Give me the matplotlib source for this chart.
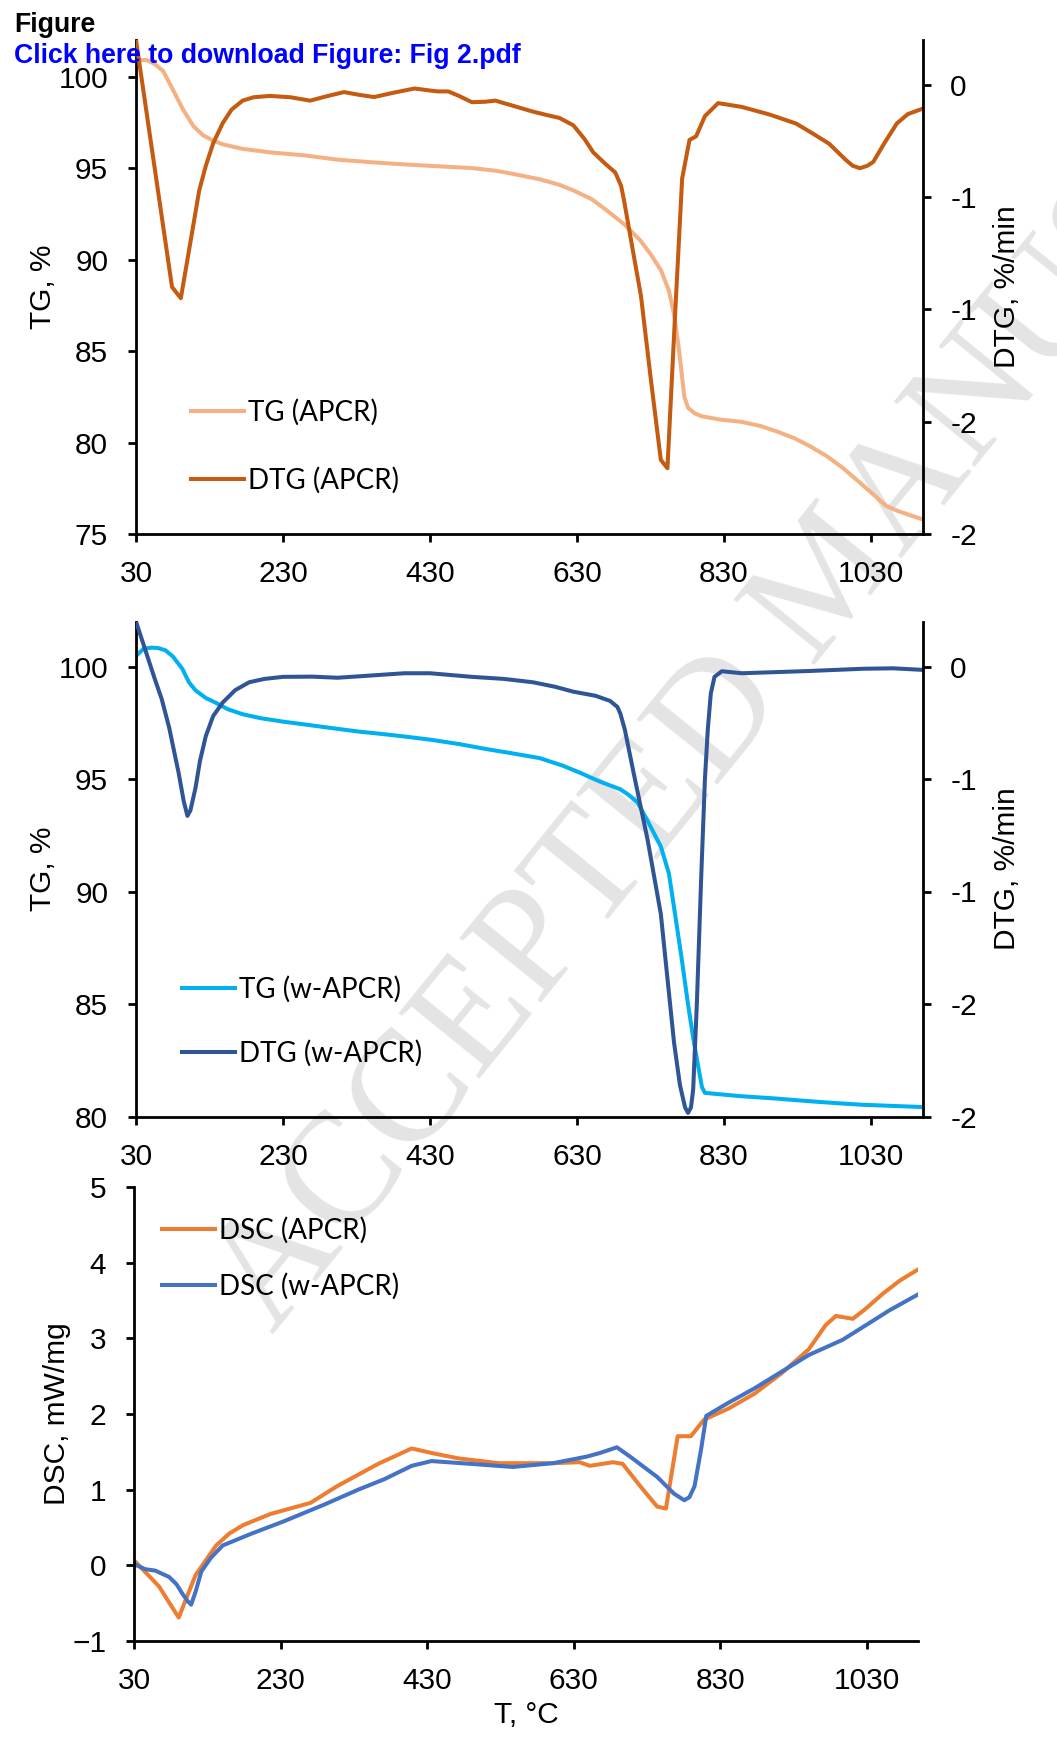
import numpy as np
import matplotlib
matplotlib.use("Agg")
from matplotlib import pyplot as plt

# ---- data ----
# top panel, APCR
t_tg1 = [31, 45, 55, 67, 80, 94, 108, 121, 135, 148, 175, 212, 258, 304, 350, 395, 440,
         487, 520, 542, 579, 605, 625, 650, 671, 695, 716, 730, 744, 755, 762, 768, 772,
         776, 781, 790, 799, 825, 854, 880, 900, 925, 946, 970, 992, 1015, 1038, 1050,
         1065, 1085, 1100]
tg1 = [100.9, 100.9, 100.7, 100.3, 99.3, 98.2, 97.3, 96.8, 96.5, 96.3, 96.05, 95.86, 95.7,
       95.46, 95.32, 95.2, 95.1, 95.0, 94.85, 94.69, 94.39, 94.1, 93.78, 93.3, 92.67, 91.9,
       91.05, 90.3, 89.43, 88.3, 87.0, 85.3, 83.9, 82.5, 81.9, 81.6, 81.44, 81.25, 81.13,
       80.9, 80.63, 80.25, 79.82, 79.25, 78.6, 77.8, 76.99, 76.55, 76.28, 76.0, 75.8]
t_dtg1 = [30, 79, 91, 103, 116, 125, 135, 148, 160, 175, 190, 212, 240, 267, 290, 313,
          335, 354, 380, 409, 430, 441, 455, 470, 487, 505, 519, 545, 570, 590, 606, 625,
          640, 652, 668, 682, 690, 694, 705, 717, 730, 744, 753, 763, 773, 783, 792, 804,
          822, 854, 891, 928, 950, 973, 996, 1005, 1015, 1025, 1033, 1048, 1065, 1080,
          1100]
dtg1 = [0.2, -0.90, -0.95, -0.72, -0.47, -0.36, -0.26, -0.17, -0.11, -0.07, -0.055,
        -0.049, -0.055, -0.07, -0.05, -0.032, -0.045, -0.054, -0.035, -0.016, -0.025,
        -0.029, -0.029, -0.05, -0.077, -0.075, -0.07, -0.095, -0.119, -0.135, -0.147,
        -0.18, -0.24, -0.30, -0.35, -0.39, -0.45, -0.515, -0.72, -0.94, -1.3, -1.67,
        -1.707, -1.05, -0.417, -0.245, -0.229, -0.139, -0.081, -0.098, -0.131, -0.172,
        -0.215, -0.262, -0.335, -0.36, -0.371, -0.36, -0.343, -0.26, -0.172, -0.13,
        -0.106]

# middle panel, w-APCR
t_tg2 = [31, 40, 51, 60, 70, 80, 93, 102, 111, 125, 139, 155, 175, 200, 230, 265, 304,
         335, 368, 400, 432, 470, 505, 540, 579, 610, 634, 660, 689, 700, 712, 725, 744,
         755, 763, 772, 781, 788, 795, 800, 804, 830, 854, 900, 946, 980, 1019, 1060, 1100]
tg2 = [100.5, 100.78, 100.84, 100.82, 100.72, 100.45, 99.9, 99.3, 98.94, 98.6, 98.38,
       98.1, 97.88, 97.7, 97.55, 97.4, 97.23, 97.1, 96.99, 96.87, 96.74, 96.55, 96.34,
       96.15, 95.93, 95.6, 95.28, 94.9, 94.54, 94.3, 93.97, 93.2, 92.0, 90.8, 89.07, 87.1,
       84.99, 83.5, 82.2, 81.3, 81.05, 80.97, 80.9, 80.8, 80.68, 80.6, 80.52, 80.47, 80.42]
t_dtg2 = [30, 45, 55, 65, 75, 88, 95, 100, 104, 111, 117, 125, 135, 148, 165, 184, 205,
          230, 270, 304, 350, 395, 430, 487, 530, 570, 600, 625, 655, 675, 685, 689, 695,
          707, 726, 744, 762, 770, 777, 781, 785, 788, 793, 799, 804, 808, 812, 817, 827,
          854, 900, 946, 1019, 1060, 1100]
dtg2 = [0.2, 0.05, -0.05, -0.145, -0.27, -0.473, -0.6, -0.664, -0.64, -0.539, -0.42,
        -0.309, -0.22, -0.16, -0.105, -0.07, -0.055, -0.046, -0.045, -0.05, -0.04, -0.03,
        -0.03, -0.046, -0.055, -0.07, -0.09, -0.112, -0.13, -0.153, -0.18, -0.21, -0.28,
        -0.473, -0.77, -1.1, -1.672, -1.86, -1.96, -1.984, -1.96, -1.88, -1.5, -0.93,
        -0.5, -0.276, -0.12, -0.046, -0.021, -0.03, -0.025, -0.02, -0.01, -0.008, -0.015]

# bottom panel, DSC
t_dsc1 = [30, 64, 91, 114, 142, 160, 179, 216, 271, 307, 363, 409, 436, 473, 528, 602,
          638, 652, 684, 697, 721, 744, 756, 772, 790, 808, 841, 877, 914, 951, 974, 988,
          1011, 1029, 1052, 1075, 1100]
dsc1 = [0.066, -0.277, -0.69, -0.13, 0.262, 0.42, 0.532, 0.678, 0.826, 1.045, 1.34,
        1.545, 1.485, 1.413, 1.35, 1.35, 1.363, 1.315, 1.363, 1.34, 1.045, 0.776, 0.75,
        1.706, 1.706, 1.926, 2.07, 2.27, 2.54, 2.856, 3.175, 3.296, 3.258, 3.394, 3.59,
        3.762, 3.91]
t_dsc2 = [30, 45, 59, 78, 88, 96, 103, 108, 114, 122, 135, 151, 188, 234, 289, 335, 372,
          409, 436, 491, 547, 602, 648, 666, 689, 707, 744, 767, 781, 788, 795, 804, 811,
          841, 877, 914, 951, 997, 1025, 1061, 1100]
dsc2 = [0.017, -0.05, -0.07, -0.154, -0.25, -0.374, -0.47, -0.52, -0.35, -0.08, 0.1,
        0.262, 0.41, 0.58, 0.80, 0.996, 1.14, 1.315, 1.378, 1.34, 1.30, 1.35, 1.437,
        1.485, 1.56, 1.437, 1.168, 0.947, 0.86, 0.9, 1.045, 1.535, 1.975, 2.147, 2.34,
        2.56, 2.78, 2.98, 3.15, 3.37, 3.58]

x_ticks = [30, 230, 430, 630, 830, 1030]
dtg_ticks = [0, -0.5, -1, -1.5, -2]
dtg_labels = ["0", "-1", "-1", "-2", "-2"]

W, H = 1057, 1739
plt.rcParams["font.family"] = ["Liberation Sans", "DejaVu Sans"]
fig = plt.figure(figsize=(W / 100, H / 100), dpi=100)


def box(l, r, t, b):
    return [l / W, 1 - b / H, (r - l) / W, (b - t) / H]


def style(ax):
    ax.set_facecolor("none")
    for s in ax.spines.values():
        s.set_linewidth(2.0)
    ax.tick_params(direction="out", length=6, width=2.0, labelsize=21.5)
    ax.tick_params(axis="x", pad=13)
    ax.tick_params(axis="y", pad=14)


LW = 2.9
leg_font = {"family": "Lato", "size": 20}


def tg_panel(rect, t_tg, tg, t_dtg, dtg, c_tg, c_dtg, lab_tg, lab_dtg, ymin, yticks,
             leg_anchor, spacing):
    ax = fig.add_axes(rect)
    style(ax)
    ax.spines["top"].set_visible(False)
    ax.spines["right"].set_visible(False)
    l1, = ax.plot(t_tg, tg, color=c_tg, lw=LW, solid_joinstyle="round", label=lab_tg)
    ax.set_xlim(30, 1100)
    ax.set_ylim(ymin, 102)
    ax.set_xticks(x_ticks)
    ax.set_yticks(yticks)
    ax.set_ylabel("TG, %", fontsize=21.5, va="center")
    ax.yaxis.set_label_coords(-0.118, 0.5)
    ax2 = ax.twinx()
    style(ax2)
    ax2.spines["top"].set_visible(False)
    ax2.spines["left"].set_visible(False)
    ax2.spines["bottom"].set_visible(False)
    l2, = ax2.plot(t_dtg, dtg, color=c_dtg, lw=LW, solid_joinstyle="round", label=lab_dtg)
    ax2.set_ylim(-2, 0.2)
    ax2.set_yticks(dtg_ticks)
    ax2.set_yticklabels(dtg_labels)
    ax2.set_ylabel("DTG, %/min", fontsize=21.5, va="center")
    ax2.yaxis.set_label_coords(1.108, 0.5)
    ax.legend(handles=[l1, l2], loc="upper left", bbox_to_anchor=leg_anchor,
              bbox_transform=fig.transFigure, frameon=False, prop=leg_font,
              handlelength=1.9, handletextpad=0.15, labelspacing=spacing,
              borderpad=0, borderaxespad=0)
    return ax, ax2


tg_panel(box(136, 922.5, 40, 534), t_tg1, tg1, t_dtg1, dtg1, "#F4B183", "#C55A11",
         "TG (APCR)", "DTG (APCR)", 75, [75, 80, 85, 90, 95, 100],
         (191 / W, 1 - 398.5 / H), 1.51)
tg_panel(box(136, 922.5, 621.5, 1116.5), t_tg2, tg2, t_dtg2, dtg2, "#00B0F0", "#2F5597",
         "TG (w-APCR)", "DTG (w-APCR)", 80, [80, 85, 90, 95, 100],
         (182 / W, 1 - 976 / H), 1.34)

ax3 = fig.add_axes(box(134, 918, 1187, 1641))
style(ax3)
ax3.spines["top"].set_visible(False)
ax3.spines["right"].set_visible(False)
ax3.plot(t_dsc1, dsc1, color="#ED7D31", lw=LW, solid_joinstyle="round", label="DSC (APCR)")
ax3.plot(t_dsc2, dsc2, color="#4472C4", lw=LW, solid_joinstyle="round", label="DSC (w-APCR)")
ax3.set_xlim(30, 1100)
ax3.set_ylim(-1, 5)
ax3.set_xticks(x_ticks)
ax3.set_yticks(range(-1, 6))
ax3.set_ylabel("DSC, mW/mg", fontsize=21.5, va="center")
ax3.yaxis.set_label_coords(-0.098, 0.5)
ax3.set_xlabel("T, \u00b0C", fontsize=21.5, va="center")
ax3.xaxis.set_label_coords(0.5, -0.163)
ax3.legend(loc="upper left", bbox_to_anchor=(162 / W, 1 - 1217 / H),
           bbox_transform=fig.transFigure, frameon=False, prop=leg_font,
           handlelength=1.9, handletextpad=0.15, labelspacing=1.04,
           borderpad=0, borderaxespad=0)

# header text and watermark
fig.text(14 / W, 1 - 32 / H, "Figure", fontsize=19.2, fontweight="bold", va="baseline")
fig.text(14 / W, 1 - 63 / H, "Click here to download Figure: Fig 2.pdf", fontsize=19.2,
         fontweight="bold", color="#0000FF", va="baseline", zorder=10)
fig.text(272 / W, 1 - 1335 / H, "ACCEPTED MANUSCRIPT", fontsize=114,
         family=["Liberation Serif", "DejaVu Serif"], color="#E4E4E4", rotation=51,
         rotation_mode="anchor", ha="left", va="baseline", zorder=-1)

fig.savefig("out.png", dpi=100)
